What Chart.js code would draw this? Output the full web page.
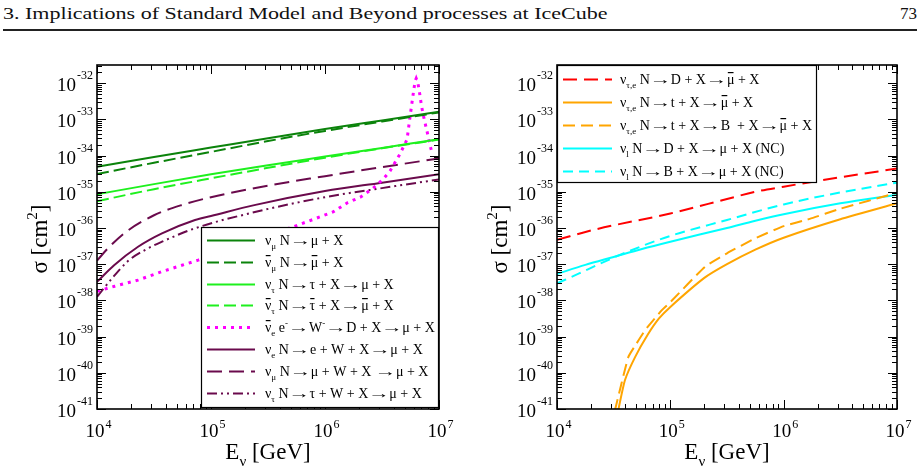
<!DOCTYPE html>
<html><head><meta charset="utf-8">
<script src="https://cdn.jsdelivr.net/npm/chart.js@4/dist/chart.umd.min.js"></script>
<style>
html,body{margin:0;padding:0;background:#fff}
body{width:920px;height:475px;overflow:hidden;position:relative;font-family:"Liberation Serif","DejaVu Serif",serif}
#hdr{position:absolute;left:3px;top:5px;font-size:17px;line-height:17px;white-space:nowrap;transform-origin:0 0;color:#111}
#pg{position:absolute;right:3px;top:5px;font-size:17px;line-height:17px;color:#111}
#rule{position:absolute;left:3px;width:914px;top:29px;height:2px;background:#222}
canvas{position:absolute;top:0}
#c1{left:0}
#c2{left:460px}
</style></head>
<body>
<div id="hdr">3. Implications of Standard Model and Beyond processes at IceCube</div>
<div id="pg">73</div>
<div id="rule"></div>
<canvas id="c1" width="460" height="475"></canvas>
<canvas id="c2" width="460" height="475"></canvas>
<script>
// ---------- DATA (log10 E[GeV], log10 sigma[cm^2]) ----------
const xTickExps = [4, 5, 6, 7];
const yTickExps = [-41, -40, -39, -38, -37, -36, -35, -34, -33, -32];

// Left panel
const lgE_numu = [4, 4.5, 5, 5.5, 6, 6.5, 7];
const lgS_numu = [-34.31, -34.04, -33.78, -33.52, -33.27, -33.03, -32.79];
const lgS_numubar = [-34.51, -34.20, -33.90, -33.60, -33.32, -33.06, -32.81];
const lgS_nutau = [-35.07, -34.79, -34.52, -34.27, -34.03, -33.79, -33.55];
const lgS_nutaubar = [-35.26, -34.93, -34.63, -34.34, -34.06, -33.80, -33.56];

const lgE_glashow = [4.0, 4.155, 4.36, 4.565, 4.887, 5.31, 5.545, 5.72, 5.84, 6.07, 6.2, 6.31, 6.42, 6.51, 6.57, 6.65, 6.69, 6.72, 6.745, 6.76, 6.77, 6.79, 6.80, 6.815, 6.83, 6.845, 6.86, 6.885, 6.906, 6.92, 6.935];
const lgS_glashow = [-37.75, -37.61, -37.44, -37.21, -36.89, -36.38, -36.15, -35.97, -35.83, -35.56, -35.30, -35.15, -34.91, -34.65, -34.43, -34.00, -33.75, -33.55, -32.95, -32.61, -32.38, -31.95, -31.87, -32.00, -32.28, -32.60, -32.85, -33.20, -33.48, -33.70, -33.88];

const lgE_eW = [4.0, 4.15, 4.36, 4.57, 4.86, 5.0, 5.38, 6.0, 6.5, 7.0];
const lgS_eW = [-37.49, -37.03, -36.52, -36.15, -35.78, -35.67, -35.37, -34.98, -34.75, -34.52];
const lgE_muW = [4.0, 4.1, 4.25, 4.5, 4.75, 5.0, 5.5, 6.0, 6.5, 7.0];
const lgS_muW = [-36.90, -36.55, -36.12, -35.65, -35.36, -35.15, -34.83, -34.57, -34.32, -34.08];
const lgE_tauW = [4.0, 4.13, 4.27, 4.42, 4.57, 4.86, 5.36, 6.0, 6.5, 7.0];
const lgS_tauW = [-37.90, -37.40, -36.92, -36.61, -36.38, -36.01, -35.58, -35.15, -34.90, -34.66];

// Right panel
const lgE_D = [4.0, 4.34, 5.0, 5.5, 5.75, 6.0, 6.5, 7.0];
const lgS_D = [-36.33, -36.04, -35.60, -35.20, -35.00, -34.86, -34.60, -34.36];
const lgE_t = [4.45, 4.543, 4.6, 4.69, 4.8, 4.9, 5.0, 5.3, 5.5, 5.75, 6.0, 6.5, 7.0];
const lgS_t = [-42.5, -41.0, -40.2, -39.56, -38.95, -38.50, -38.18, -37.38, -37.00, -36.60, -36.27, -35.76, -35.32];
const lgE_tB = [4.40, 4.514, 4.63, 4.70, 4.778, 4.925, 5.0, 5.307, 5.5, 5.747, 6.0, 6.23, 6.5, 7.0];
const lgS_tB = [-42.5, -41.0, -39.56, -39.20, -38.82, -38.27, -38.05, -37.07, -36.70, -36.29, -35.95, -35.75, -35.47, -35.03];
const lgE_ncD = [4.0, 4.25, 4.5, 4.75, 5.0, 5.5, 5.75, 6.0, 6.5, 7.0];
const lgS_ncD = [-37.27, -37.02, -36.80, -36.58, -36.38, -36.00, -35.80, -35.62, -35.32, -35.08];
const lgE_ncB = [4.0, 4.2, 4.35, 4.53, 4.75, 5.0, 5.5, 6.0, 6.5, 7.0];
const lgS_ncB = [-37.53, -37.25, -37.03, -36.78, -36.50, -36.22, -35.78, -35.35, -35.02, -34.75];

const labelsLeft = [
  "ν_{μ} N → μ + X",
  "~ν_{μ} N → ~μ + X",
  "ν_{τ} N → τ + X → μ + X",
  "~ν_{τ} N → ~τ + X → ~μ + X",
  "~ν_{e} e^{-} → W^{-} → D + X → μ + X",
  "ν_{e} N → e + W + X → μ + X",
  "ν_{μ} N → μ + W + X  → μ + X",
  "ν_{τ} N → τ + W + X → μ + X"
];
const labelsRight = [
  "ν_{τ,e} N → D + X → ~μ + X",
  "ν_{τ,e} N → t + X → ~μ + X",
  "ν_{τ,e} N → t + X → B  + X → ~μ + X",
  "ν_{l} N → D + X → μ + X (NC)",
  "ν_{l} N → B + X → μ + X (NC)"
];

// ---------- helpers ----------
const FAM = '"Liberation Serif","DejaVu Serif",serif';
function pts(lx, ly){ return lx.map((v,i)=>({x:Math.pow(10,v), y:Math.pow(10,ly[i])})); }

function parseRich(s){
  const out=[]; let i=0;
  while(i<s.length){
    const c=s[i];
    if((c==='_'||c==='^') && s[i+1]==='{'){
      const j=s.indexOf('}',i); out.push({t:s.slice(i+2,j),k:c==='_'?'sub':'sup'}); i=j+1;
    } else if(c==='~'){ out.push({t:s[i+1],k:'n',bar:true}); i+=2; }
    else if(c==='→'){ out.push({t:'→',k:'arr'}); i+=1; }
    else { let j=i; while(j<s.length && !'_^~→'.includes(s[j])) j++; out.push({t:s.slice(i,j),k:'n'}); i=j; }
  }
  return out;
}
function drawRich(ctx,x,y,s,size,measureOnly){
  const segs=parseRich(s); let x0=x;
  for(const g of segs){
    const fs = (g.k==='n'||g.k==='arr')?size:Math.round(size*0.66);
    ctx.font = fs+'px '+FAM;
    const dy = g.k==='sub'? size*0.3 : g.k==='sup'? -size*0.42 : 0;
    const w=ctx.measureText(g.t).width;
    if(g.k==='arr'){
      if(!measureOnly){
        ctx.save(); const al=ctx.textAlign; ctx.textAlign='center';
        ctx.translate(x+w/2,y); ctx.scale(1.55,1); ctx.fillText(g.t,0,0);
        ctx.restore();
      }
      x+=w; continue;
    }
    if(!measureOnly){
      ctx.fillText(g.t,x,y+dy);
      if(g.bar){ ctx.fillRect(x+w*0.12, Math.round(y-size*0.86), w*0.76, 1.2); }
    }
    x+=w;
  }
  return x-x0;
}

function line(ctx,x1,y1,x2,y2){ ctx.beginPath(); ctx.moveTo(x1,y1); ctx.lineTo(x2,y2); ctx.stroke(); }

function axesPlugin(legendCfg){
  return {
    id:'axesDeco',
    afterDatasetsDraw(chart){
      const ctx=chart.ctx, ca=chart.chartArea, xs=chart.scales.x, ys=chart.scales.y;
      ctx.save();
      ctx.strokeStyle='#000'; ctx.fillStyle='#000'; ctx.lineWidth=1;
      for(let d=xTickExps[0]; d<=xTickExps[xTickExps.length-1]; d++){
        for(let m=1;m<=9;m++){
          if(d===xTickExps[xTickExps.length-1] && m>1) break;
          const px=Math.round(xs.getPixelForValue(m*Math.pow(10,d)))+0.5;
          const L=m===1?9:5;
          line(ctx,px,ca.bottom,px,ca.bottom-L); line(ctx,px,ca.top,px,ca.top+L);
        }
      }
      const ymax=ys.max;
      for(let d=yTickExps[0]; d<=yTickExps[yTickExps.length-1]; d++){
        for(let m=1;m<=9;m++){
          const v=m*Math.pow(10,d); if(v>ymax*1.0001) break;
          const py=Math.round(ys.getPixelForValue(v))+0.5;
          const L=m===1?9:5;
          line(ctx,ca.left,py,ca.left+L,py); line(ctx,ca.right,py,ca.right-L,py);
        }
      }
      ctx.lineWidth=1.6;
      ctx.strokeRect(ca.left,ca.top,ca.right-ca.left,ca.bottom-ca.top);
      ctx.textBaseline='alphabetic';
      for(const d of yTickExps){
        const py=ys.getPixelForValue(Math.pow(10,d));
        ctx.font='12px '+FAM; const sup=String(d); const ws=ctx.measureText(sup).width;
        ctx.textAlign='left';
        ctx.fillText(sup, ca.left-4-ws, py-4);
        ctx.font='19px '+FAM; const w10=ctx.measureText('10').width;
        ctx.fillText('10', ca.left-5-ws-w10, py+8);
      }
      for(const d of xTickExps){
        const px=xs.getPixelForValue(Math.pow(10,d));
        ctx.font='19px '+FAM; ctx.textAlign='left';
        const w10=ctx.measureText('10').width;
        ctx.fillText('10', px-2-w10/2, 437);
        ctx.font='12px '+FAM;
        ctx.fillText(String(d), px-2+w10/2+1, 428);
      }
      ctx.textAlign='left';
      const tx='E_{ν} [GeV]';
      const wt=drawRich(ctx,0,0,tx,23,true);
      drawRich(ctx,(ca.left+ca.right)/2-wt/2,459,tx,23);
      ctx.save();
      ctx.translate(ca.left-50,(ca.top+ca.bottom)/2+2);
      ctx.rotate(-Math.PI/2);
      const ty='σ [cm^{2}]';
      const wy=drawRich(ctx,0,0,ty,23,true);
      drawRich(ctx,-wy/2,0,ty,23);
      ctx.restore();
      // legend
      const L=legendCfg;
      const bx=ca.left+L.dx, by=ca.top+L.dy, bw=(L.w===null? ca.right-bx : L.w), bh=L.h;
      ctx.fillStyle='#fff'; ctx.fillRect(bx,by,bw,bh);
      ctx.strokeStyle='#000'; ctx.lineWidth=1.2; ctx.strokeRect(bx+0.5,by+0.5,bw-1,bh-1);
      const dsets=chart.data.datasets;
      L.labels.forEach((lab,i)=>{
        const d=dsets[i];
        const ry=Math.round(by+L.first+i*L.step)+0.5;
        ctx.save();
        ctx.strokeStyle=d.borderColor; ctx.lineWidth=d.borderWidth; ctx.setLineDash(d.borderDash||[]);
        ctx.lineCap='butt';
        line(ctx,bx+L.lx0,ry,bx+L.lx1,ry);
        ctx.restore();
        ctx.fillStyle='#000'; ctx.textAlign='left';
        drawRich(ctx,bx+L.tx,ry+4.5,lab,L.fs);
      });
      ctx.restore();
    }
  };
}

function ds(lx,ly,color,dash,width,mode){
  const o={data:pts(lx,ly),borderColor:color,borderWidth:width||2,borderDash:dash||[],
          pointRadius:0,fill:false,clip:0,borderCapStyle:'butt'};
  if(mode==='mono'){ o.cubicInterpolationMode='monotone'; }
  else { o.tension=mode||0; }
  return o;
}

function baseOptions(pad){
  return {
    responsive:false, animation:false, events:[],
    layout:{padding:pad},
    plugins:{legend:{display:false},tooltip:{enabled:false}},
    scales:{
      x:{type:'logarithmic',min:1e4,max:1e7,display:false},
      y:{type:'logarithmic',min:1e-41,max:Math.pow(10,-31.5),display:false}
    }
  };
}

const DKGREEN='#0b830b', LIME='#1ef01e', MAG='#ff00ff', PURP='#6a0a4c';
const RED='#ff0000', ORANGE='#ffa500', CYAN='#00ffff';

new Chart(document.getElementById('c1'),{
  type:'line',
  data:{datasets:[
    ds(lgE_numu,lgS_numu,DKGREEN,[],2,'mono'),
    ds(lgE_numu,lgS_numubar,DKGREEN,[12,5],2,'mono'),
    ds(lgE_numu,lgS_nutau,LIME,[],2,'mono'),
    ds(lgE_numu,lgS_nutaubar,LIME,[12,5],2,'mono'),
    ds(lgE_glashow,lgS_glashow,MAG,[3,5],3,0),
    ds(lgE_eW,lgS_eW,PURP,[],2,'mono'),
    ds(lgE_muW,lgS_muW,PURP,[15,7],2,'mono'),
    ds(lgE_tauW,lgS_tauW,PURP,[10,4,2,4,2,4],2,'mono')
  ]},
  options:baseOptions({left:97,right:21,top:65,bottom:66}),
  plugins:[axesPlugin({dx:104,dy:162,w:null,h:181,first:13,step:21.8,lx0:6,lx1:54,tx:64,fs:14,labels:labelsLeft})]
});

new Chart(document.getElementById('c2'),{
  type:'line',
  data:{datasets:[
    ds(lgE_D,lgS_D,RED,[14,7],2,'mono'),
    ds(lgE_t,lgS_t,ORANGE,[],2,0.15),
    ds(lgE_tB,lgS_tB,ORANGE,[12,6],2,0.15),
    ds(lgE_ncD,lgS_ncD,CYAN,[],2,'mono'),
    ds(lgE_ncB,lgS_ncB,CYAN,[10,6],2,'mono')
  ]},
  options:baseOptions({left:97,right:23,top:65,bottom:66}),
  plugins:[axesPlugin({dx:0,dy:0,w:260,h:118,first:14,step:23,lx0:6,lx1:55,tx:63,fs:14,labels:labelsRight})]
});

const h=document.getElementById('hdr');
h.style.transform='scaleX('+(604/h.offsetWidth)+')';
</script>
</body></html>
